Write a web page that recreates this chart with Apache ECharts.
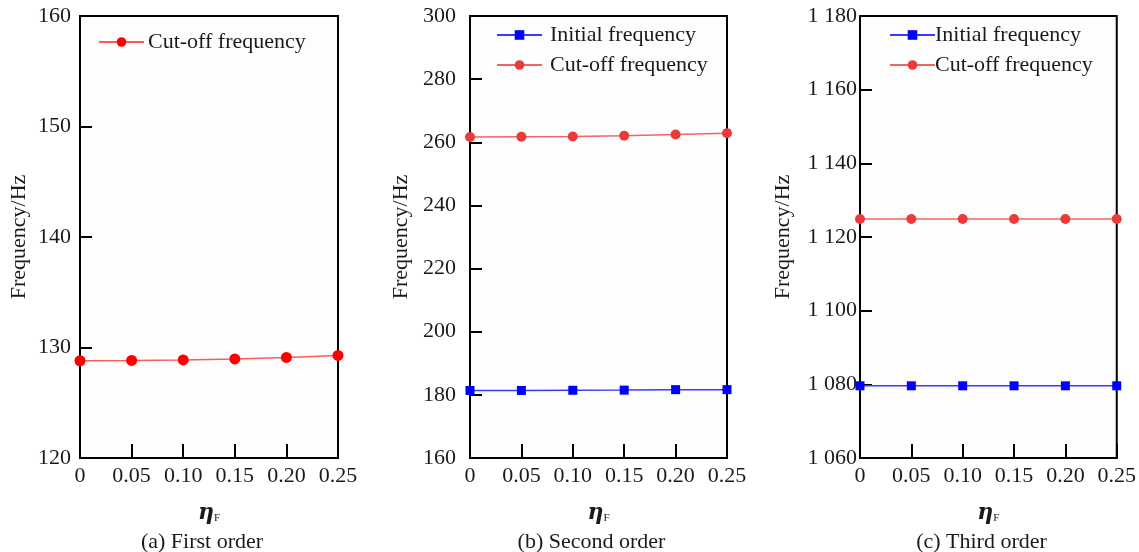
<!DOCTYPE html>
<html>
<head>
<meta charset="utf-8">
<script src="https://cdn.jsdelivr.net/npm/echarts@6/dist/echarts.min.js"></script>
<style>
html,body{margin:0;padding:0;background:#fff;}
#c{width:1139px;height:552px;}
</style>
</head>
<body>
<div id="c"></div>
<script>
// ---- data ----
const etaF = [0, 0.05, 0.10, 0.15, 0.20, 0.25];
const xTicks = ['0', '0.05', '0.10', '0.15', '0.20', '0.25'];
const cutoffFirst = [128.8, 128.83, 128.88, 128.97, 129.1, 129.28];
const initialSecond = [181.4, 181.4, 181.45, 181.5, 181.65, 181.65];
const cutoffSecond = [261.7, 261.75, 261.85, 262.05, 262.45, 262.9];
const initialThird = [1079.6, 1079.6, 1079.6, 1079.6, 1079.6, 1079.6];
const cutoffThird = [1124.9, 1124.9, 1124.9, 1124.9, 1124.9, 1124.9];
const subtitles = ['(a) First order', '(b) Second order', '(c) Third order'];
const yName = 'Frequency/Hz';
const nameInitial = 'Initial frequency';
const nameCutoff = 'Cut-off frequency';

const FONT = 'Liberation Serif';
const TXT = '#1a1a1a';

const grids = [
  {left: 80, top: 16, width: 258, height: 442},
  {left: 470, top: 16, width: 257, height: 442},
  {left: 860, top: 16, width: 257, height: 442}
];
const yCfg = [
  {min: 120, max: 160, interval: 10, margin: 9, fmt: v => String(v)},
  {min: 160, max: 300, interval: 20, margin: 14, fmt: v => String(v)},
  {min: 1060, max: 1180, interval: 20, margin: 3, fmt: v => String(v).replace(/\B(?=(\d{3})+(?!\d))/g, ' ')}
];

function pairs(ys) { return etaF.map((x, i) => [x, ys[i]]); }

const legendBase = {
  orient: 'vertical', padding: 0, itemWidth: 45, itemHeight: 12, itemGap: 8,
  formatter: n => n.split('|')[0]
};

const option = {
  backgroundColor: '#fff',
  animation: false,
  textStyle: {fontFamily: FONT, color: TXT},
  title: grids.map((g, i) => ({
    text: subtitles[i],
    left: g.left + g.width / 2 - 12,
    top: 526,
    textAlign: 'center',
    textStyle: {fontFamily: FONT, fontSize: 22, fontWeight: 'normal', color: TXT}
  })),
  grid: grids.map(g => Object.assign({
    show: true, borderColor: '#000', borderWidth: 2, backgroundColor: '#fdfdfd'
  }, g)),
  legend: [
    Object.assign({}, legendBase, {
      left: 98, top: 31,
      data: [nameCutoff + '|a'],
      textStyle: {fontFamily: FONT, fontSize: 22, color: TXT, padding: [0, 0, 0, -1]}
    }),
    Object.assign({}, legendBase, {
      left: 496, top: 24,
      data: [nameInitial + '|b', nameCutoff + '|b'],
      textStyle: {fontFamily: FONT, fontSize: 22, color: TXT, padding: [0, 0, 0, 3]}
    }),
    Object.assign({}, legendBase, {
      left: 889, top: 24,
      data: [nameInitial + '|c', nameCutoff + '|c'],
      textStyle: {fontFamily: FONT, fontSize: 22, color: TXT, padding: [0, 0, 0, -5]}
    })
  ],
  xAxis: grids.map((g, i) => ({
    gridIndex: i,
    type: 'value',
    min: 0, max: 0.25, interval: 0.05,
    name: '{e|η}{s|F}',
    nameLocation: 'middle',
    nameGap: 44,
    nameTextStyle: {
      rich: {
        e: {fontFamily: 'DejaVu Serif', fontSize: 22, fontWeight: 'bold', fontStyle: 'italic', color: TXT},
        s: {fontFamily: FONT, fontSize: 11, color: TXT, verticalAlign: 'bottom', padding: [8, 0, 0, 0]}
      }
    },
    axisLine: {show: true, onZero: false, lineStyle: {color: '#000', width: 2}},
    axisTick: {show: true, inside: true, length: 14, lineStyle: {color: '#000', width: 2}},
    axisLabel: {
      fontFamily: FONT, fontSize: 22, color: TXT, margin: 7,
      formatter: v => xTicks[Math.round(v / 0.05)]
    },
    splitLine: {show: false}
  })),
  yAxis: grids.map((g, i) => ({
    gridIndex: i,
    type: 'value',
    min: yCfg[i].min, max: yCfg[i].max, interval: yCfg[i].interval,
    name: yName,
    nameLocation: 'middle',
    nameGap: i === 2 ? 66 : (i === 1 ? 58 : 50),
    nameTextStyle: {fontFamily: FONT, fontSize: 22, color: TXT},
    axisLine: {show: true, lineStyle: {color: '#000', width: 2}},
    axisTick: {show: true, inside: true, length: 12, lineStyle: {color: '#000', width: 2}},
    axisLabel: {fontFamily: FONT, fontSize: 22, color: TXT, margin: yCfg[i].margin, formatter: yCfg[i].fmt},
    splitLine: {show: false}
  })),
  series: [
    {
      name: nameCutoff + '|a', type: 'line', xAxisIndex: 0, yAxisIndex: 0,
      data: pairs(cutoffFirst), symbol: 'circle', symbolSize: 11,
      itemStyle: {color: '#ff0000'}, lineStyle: {color: '#ff5a5a', width: 1.5}
    },
    {
      name: nameInitial + '|b', type: 'line', xAxisIndex: 1, yAxisIndex: 1,
      data: pairs(initialSecond), symbol: 'rect', symbolSize: 9,
      itemStyle: {color: '#0000ff'}, lineStyle: {color: '#3a3aff', width: 1.5}
    },
    {
      name: nameCutoff + '|b', type: 'line', xAxisIndex: 1, yAxisIndex: 1,
      data: pairs(cutoffSecond), symbol: 'circle', symbolSize: 10,
      itemStyle: {color: '#ec3a3a'}, lineStyle: {color: '#f26464', width: 1.5}
    },
    {
      name: nameInitial + '|c', type: 'line', xAxisIndex: 2, yAxisIndex: 2,
      data: pairs(initialThird), symbol: 'rect', symbolSize: 9,
      itemStyle: {color: '#0000ff'}, lineStyle: {color: '#3a3aff', width: 1.5}
    },
    {
      name: nameCutoff + '|c', type: 'line', xAxisIndex: 2, yAxisIndex: 2,
      data: pairs(cutoffThird), symbol: 'circle', symbolSize: 10,
      itemStyle: {color: '#ec3a3a'}, lineStyle: {color: '#f26464', width: 1.5}
    }
  ]
};

const chart = echarts.init(document.getElementById('c'), null, {renderer: 'canvas'});
chart.setOption(option);
</script>
</body>
</html>
